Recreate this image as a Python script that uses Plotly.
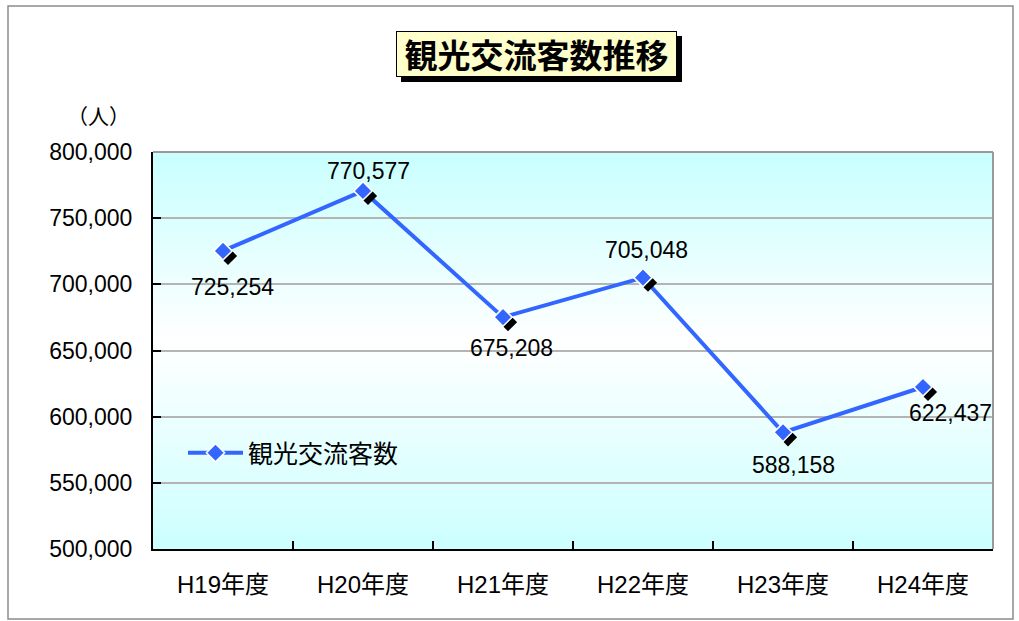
import plotly.graph_objects as go

categories = ["H19年度", "H20年度", "H21年度", "H22年度", "H23年度", "H24年度"]
visitors = [725254, 770577, 675208, 705048, 588158, 622437]
series_name = "観光交流客数"
title_text = "観光交流客数推移"
unit_text = "（人）"
y_ticks = [500000, 550000, 600000, 650000, 700000, 750000, 800000]

# label offsets (pixels) relative to each point
label_dx = [9, 5, 8, 3, 10, 27]
label_dy = [-36, 20, -31, 28, -33, -26]

W, H = 1019, 621
L, R, T, B = 153, 26, 152, 72
PW, PH = W - L - R, H - T - B
YMIN, YMAX = 500000, 800000

def px(x):
    return (x - L) / PW

def py(y):
    return (H - B - y) / PH

FONT = "Liberation Sans, Noto Sans CJK JP, sans-serif"
BLUE = "#3366ff"

fig = go.Figure()

# main line (with legend entry)
fig.add_trace(go.Scatter(
    x=categories, y=visitors, name=series_name, mode="lines+markers",
    line=dict(color=BLUE, width=4),
    marker=dict(symbol="diamond", size=14, color=BLUE, line=dict(color="white", width=1.5)),
    xaxis="x", yaxis="y", showlegend=True,
))

# shadow markers (shifted axes)
fig.add_trace(go.Scatter(
    x=categories, y=visitors, mode="markers", showlegend=False,
    marker=dict(symbol="diamond", size=14, color="black"),
    xaxis="x2", yaxis="y2", hoverinfo="skip",
))

# markers on top
fig.add_trace(go.Scatter(
    x=categories, y=visitors, mode="markers", showlegend=False,
    marker=dict(symbol="diamond", size=14, color=BLUE, line=dict(color="white", width=1.5)),
    xaxis="x3", yaxis="y3",
))

n = len(categories)
sx = 5 / (PW / n)
sy = 5 * (YMAX - YMIN) / PH

shapes = []
# gradient background
bands = 60
c_top = (200, 255, 255)
c_mid = (255, 255, 255)
c_bot = (204, 255, 255)
mid = 0.52
for i in range(bands):
    y0 = i / bands
    y1 = (i + 1) / bands
    t = (y0 + y1) / 2
    if t >= mid:
        f = (t - mid) / (1 - mid)
        c = tuple(round(c_mid[k] + (c_top[k] - c_mid[k]) * f) for k in range(3))
    else:
        f = (mid - t) / mid
        c = tuple(round(c_mid[k] + (c_bot[k] - c_mid[k]) * f) for k in range(3))
    shapes.append(dict(type="rect", xref="paper", yref="paper", x0=0, x1=1, y0=y0, y1=y1 + 0.002,
                       fillcolor="rgb(%d,%d,%d)" % c, line=dict(width=0), layer="below"))
# plot border top/right
shapes.append(dict(type="line", xref="paper", yref="paper", x0=0, x1=1, y0=1, y1=1,
                   line=dict(color="#9a9a9a", width=2), layer="above"))
shapes.append(dict(type="line", xref="paper", yref="paper", x0=1, x1=1, y0=0, y1=1,
                   line=dict(color="#9a9a9a", width=2), layer="above"))
# outer border
shapes.append(dict(type="rect", xref="paper", yref="paper", x0=px(8), x1=px(1013), y0=py(619), y1=py(6),
                   line=dict(color="#8c8c8c", width=1.5), fillcolor="rgba(0,0,0,0)", layer="below"))
# title shadow
shapes.append(dict(type="rect", xref="paper", yref="paper", x0=px(401), x1=px(682), y0=py(82), y1=py(36),
                   line=dict(width=0), fillcolor="black", layer="above"))

annotations = []
for c, v, dx, dy in zip(categories, visitors, label_dx, label_dy):
    annotations.append(dict(x=c, y=v, xref="x", yref="y", text=f"{v:,}", showarrow=False,
                            xanchor="center", yanchor="middle",
                            xshift=dx, yshift=dy, font=dict(family=FONT, size=23, color="black")))
annotations.append(dict(x=px(98), y=py(116), xref="paper", yref="paper", text=unit_text, showarrow=False,
                        xanchor="center", yanchor="middle",
                        font=dict(family=FONT, size=21, color="black")))
annotations.append(dict(x=px(536.5), y=py(54), xref="paper", yref="paper", text="<b>" + title_text + "</b>",
                        showarrow=False, xanchor="center", yanchor="middle",
                        width=279, height=44, bgcolor="#ffffcc", bordercolor="black",
                        borderwidth=1, borderpad=0,
                        font=dict(family="Noto Sans CJK JP, sans-serif", size=33, color="black")))

fig.update_layout(
    width=W, height=H,
    margin=dict(l=L, r=R, t=T, b=B, autoexpand=False),
    paper_bgcolor="white", plot_bgcolor="white",
    shapes=shapes, annotations=annotations,
    showlegend=True,
    legend=dict(x=px(183), y=py(453), xanchor="left", yanchor="middle", bgcolor="rgba(0,0,0,0)",
                font=dict(family=FONT, size=25, color="black"), itemwidth=55),
    xaxis=dict(type="category", categoryorder="array", categoryarray=categories,
               range=[-0.5, n - 0.5], tickson="boundaries", ticks="inside", ticklen=8, tickwidth=2,
               tickcolor="black", showline=True, linecolor="black", linewidth=2, showgrid=False,
               tickfont=dict(family=FONT, size=24, color="black"), ticklabelstandoff=13, fixedrange=True),
    yaxis=dict(range=[YMIN, YMAX], tickvals=y_ticks, tickformat=",d", ticks="inside", ticklen=8,
               tickwidth=2, tickcolor="black", showline=True, linecolor="black", linewidth=2,
               showgrid=True, gridcolor="#b4b4b4", gridwidth=2, zeroline=False,
               tickfont=dict(family=FONT, size=23, color="black"), ticklabelstandoff=14, fixedrange=True),
    xaxis2=dict(type="category", categoryorder="array", categoryarray=categories, overlaying="x",
                range=[-0.5 - sx, n - 0.5 - sx], visible=False, fixedrange=True),
    yaxis2=dict(range=[YMIN + sy, YMAX + sy], overlaying="y", visible=False, fixedrange=True),
    xaxis3=dict(type="category", categoryorder="array", categoryarray=categories, overlaying="x",
                range=[-0.5, n - 0.5], visible=False, fixedrange=True),
    yaxis3=dict(range=[YMIN, YMAX], overlaying="y", visible=False, fixedrange=True),
)

fig.write_html("out.html", config={"displayModeBar": False},
               post_script="document.body.style.margin='0';")
